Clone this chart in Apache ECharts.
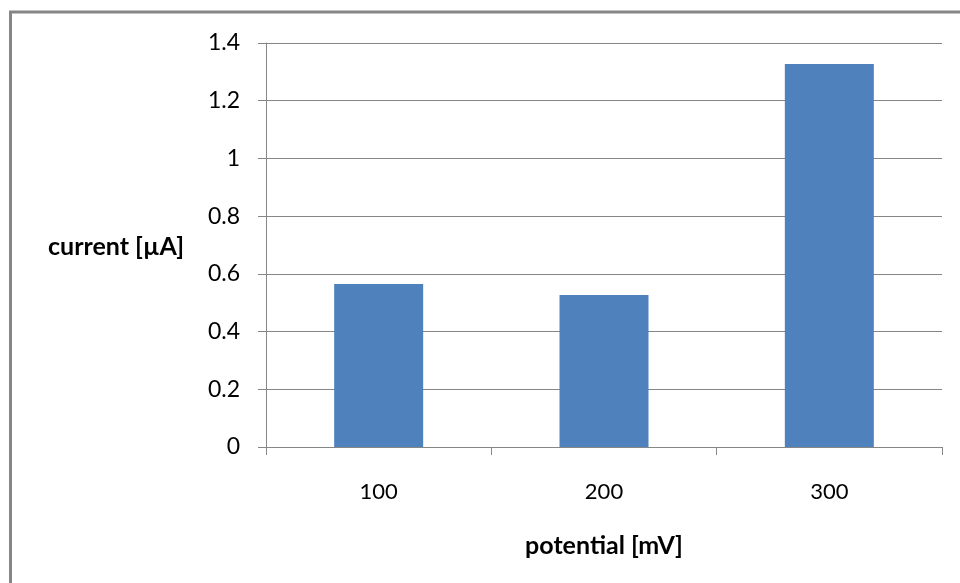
<!DOCTYPE html>
<html>
<head>
<meta charset="utf-8">
<style>
  html, body { margin: 0; padding: 0; background: #fff; }
  #chart { width: 960px; height: 583px; }
</style>
<script src="https://cdn.jsdelivr.net/npm/echarts@6/dist/echarts.min.js"></script>
</head>
<body>
<div id="chart"></div>
<script>
// Potential steps (mV) and measured current (µA)
const potentials = ['100', '200', '300'];
const currents = [0.565, 0.527, 1.327];
const yTicks = [0, 0.2, 0.4, 0.6, 0.8, 1, 1.2, 1.4];

const gray = '#868686';
const font = 'Lato, "Open Sans", sans-serif';

const chart = echarts.init(document.getElementById('chart'), null, { renderer: 'canvas' });

chart.setOption({
  animation: false,
  backgroundColor: '#fff',
  grid: { left: 266, right: 18, top: 43, bottom: 136, containLabel: false },
  graphic: [
    // frame around the chart area (left and top edges)
    { type: 'line', shape: { x1: 10.5, y1: 12, x2: 10.5, y2: 583 }, style: { stroke: gray, lineWidth: 3 } },
    { type: 'line', shape: { x1: 9, y1: 12, x2: 960, y2: 12 }, style: { stroke: gray, lineWidth: 3 } },
    { type: 'text', left: 48, top: 234,
      style: { text: 'current [µA]', font: 'bold 25px ' + font, fill: '#000' } }
  ],
  xAxis: {
    type: 'category',
    data: potentials,
    name: 'potential [mV]',
    nameLocation: 'middle',
    nameGap: 86,
    nameTextStyle: { fontFamily: font, fontSize: 25, fontWeight: 'bold', color: '#000' },
    axisLine: { lineStyle: { color: gray, width: 1 } },
    axisTick: { show: true, alignWithLabel: false, length: 8, lineStyle: { color: gray } },
    axisLabel: { fontFamily: font, fontSize: 22, color: '#000', margin: 34 },
    splitLine: { show: false }
  },
  yAxis: {
    type: 'value',
    min: 0,
    max: 1.4,
    interval: 0.2,
    axisLine: { show: true, lineStyle: { color: gray, width: 1 } },
    axisTick: { show: true, length: 8, inside: false, lineStyle: { color: gray } },
    axisLabel: {
      fontFamily: font, fontSize: 23, color: '#000', margin: 26,
      formatter: v => {
        const t = yTicks.find(k => Math.abs(k - v) < 1e-9);
        return t === undefined ? '' : String(t);
      }
    },
    splitLine: { show: true, lineStyle: { color: gray, width: 1 } }
  },
  series: [{
    type: 'bar',
    data: currents,
    barWidth: 89,
    itemStyle: { color: '#4f81bd' }
  }]
});
</script>
</body>
</html>
